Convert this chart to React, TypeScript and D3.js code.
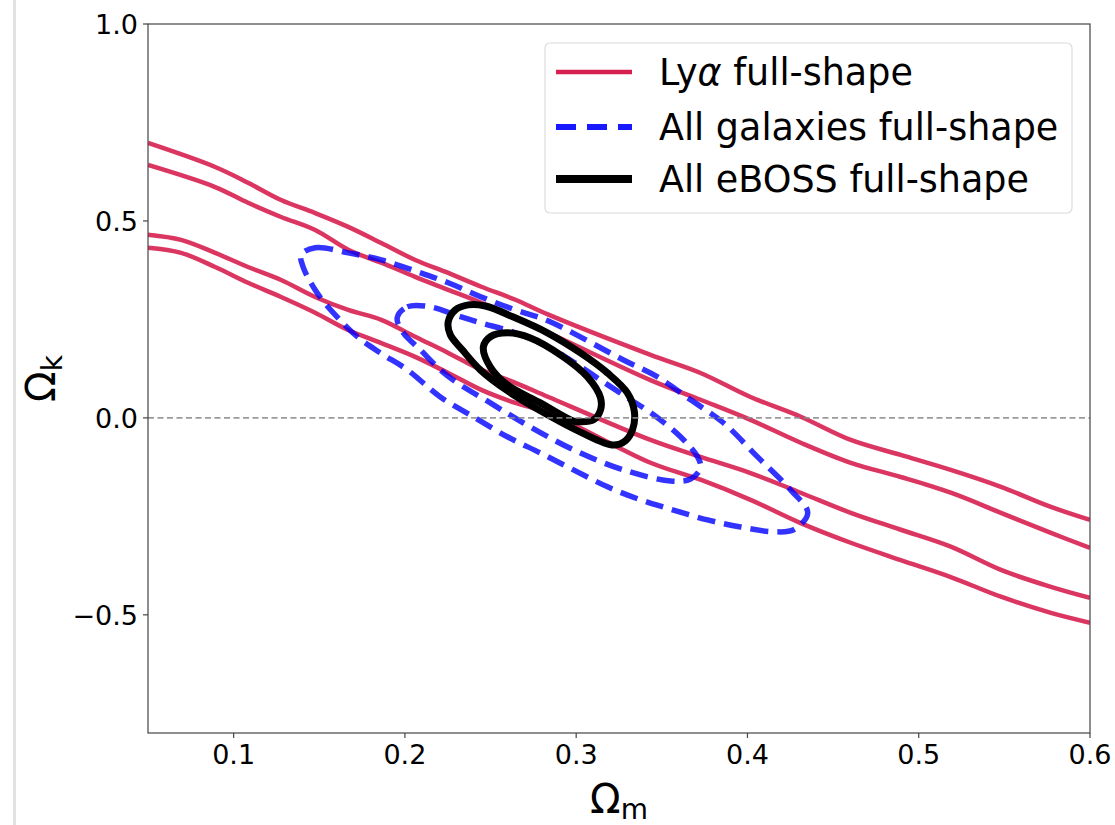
import React from "react";
import * as d3 from "d3";

type P = [number, number];

const xTicks = [0.1, 0.2, 0.3, 0.4, 0.5, 0.6];
const yTicks = [1.0, 0.5, 0.0, -0.5];

const lyaLine1: P[] = [[0.05,0.698],[0.0892,0.637],[0.1084,0.597],[0.1277,0.553],[0.1476,0.520],[0.1669,0.485],[0.1862,0.444],[0.2060,0.401],[0.2253,0.368],[0.2446,0.333],[0.2645,0.300],[0.2838,0.262],[0.3434,0.160],[0.3726,0.114],[0.4018,0.053],[0.4311,0.003],[0.4603,-0.056],[0.4895,-0.094],[0.5187,-0.132],[0.5480,-0.175],[0.5772,-0.226],[0.6,-0.259]];
const lyaLine2: P[] = [[0.05,0.642],[0.0892,0.586],[0.1084,0.546],[0.1277,0.510],[0.1476,0.477],[0.1669,0.427],[0.1862,0.394],[0.2060,0.358],[0.2253,0.325],[0.2446,0.292],[0.2838,0.216],[0.3434,0.096],[0.3726,0.046],[0.4018,-0.005],[0.4311,-0.063],[0.4603,-0.114],[0.4895,-0.150],[0.5187,-0.190],[0.5480,-0.241],[0.5772,-0.292],[0.6,-0.330]];
const lyaLine3: P[] = [[0.05,0.465],[0.0693,0.452],[0.0892,0.419],[0.1084,0.383],[0.1277,0.350],[0.1476,0.307],[0.1669,0.274],[0.1862,0.249],[0.2060,0.206],[0.2253,0.165],[0.2446,0.122],[0.2645,0.089],[0.2838,0.053],[0.3434,-0.056],[0.3726,-0.099],[0.4018,-0.140],[0.4311,-0.190],[0.4603,-0.241],[0.4895,-0.284],[0.5187,-0.327],[0.5480,-0.386],[0.5772,-0.429],[0.6,-0.457]];
const lyaLine4: P[] = [[0.05,0.432],[0.0693,0.419],[0.0892,0.383],[0.1084,0.343],[0.1277,0.307],[0.1476,0.267],[0.1669,0.223],[0.1862,0.190],[0.2060,0.155],[0.2253,0.114],[0.2446,0.071],[0.2645,0.038],[0.2838,0.013],[0.3434,-0.114],[0.3726,-0.157],[0.4018,-0.208],[0.4311,-0.267],[0.4603,-0.317],[0.4895,-0.361],[0.5187,-0.404],[0.5480,-0.454],[0.5772,-0.495],[0.6,-0.520]];

const galOuter: P[] = [[0.1394,0.414],[0.1476,0.432],[0.1669,0.419],[0.1862,0.401],[0.2060,0.373],[0.2253,0.343],[0.2446,0.307],[0.2645,0.274],[0.2838,0.246],[0.3276,0.147],[0.3475,0.104],[0.3668,0.046],[0.3861,-0.013],[0.4059,-0.099],[0.4252,-0.183],[0.4352,-0.241],[0.4270,-0.284],[0.4153,-0.289],[0.3960,-0.277],[0.3767,-0.259],[0.3568,-0.234],[0.3376,-0.208],[0.3183,-0.175],[0.2984,-0.132],[0.2791,-0.089],[0.2598,-0.048],[0.2399,0.003],[0.2207,0.053],[0.2014,0.122],[0.1856,0.165],[0.1722,0.206],[0.1605,0.256],[0.1488,0.317],[0.1406,0.383]];
const galInner: P[] = [[0.1955,0.254],[0.2014,0.282],[0.2148,0.282],[0.2312,0.259],[0.2446,0.241],[0.2645,0.216],[0.2838,0.180],[0.2984,0.142],[0.3142,0.096],[0.3300,0.051],[0.3452,0.008],[0.3609,-0.048],[0.3709,-0.099],[0.3726,-0.127],[0.3668,-0.155],[0.3551,-0.160],[0.3276,-0.132],[0.2984,-0.081],[0.2692,-0.013],[0.2499,0.038],[0.2306,0.089],[0.2207,0.122],[0.2090,0.173],[0.1990,0.216]];

const ebossOuter: P[] = [[0.2253,0.244],[0.2294,0.274],[0.2370,0.287],[0.2470,0.284],[0.2633,0.256],[0.2832,0.216],[0.3025,0.165],[0.3183,0.114],[0.3300,0.063],[0.3340,0.015],[0.3329,-0.030],[0.3288,-0.058],[0.3218,-0.069],[0.3025,-0.036],[0.2791,0.018],[0.2598,0.069],[0.2440,0.122],[0.2335,0.173],[0.2265,0.211]];
const ebossInner: P[] = [[0.2458,0.180],[0.2499,0.206],[0.2598,0.216],[0.2733,0.203],[0.2925,0.155],[0.3066,0.104],[0.3142,0.051],[0.3142,0.020],[0.3101,-0.005],[0.3025,-0.010],[0.2984,-0.008],[0.2791,0.038],[0.2598,0.084],[0.2499,0.129]];

const legendLabels = ["Lyα full-shape", "All galaxies full-shape", "All eBOSS full-shape"];

const W = 1115, H = 825;
const L = 148, R = 1090, T = 24, B = 733;

export default function App() {
  const x = d3.scaleLinear().domain([0.05, 0.6]).range([L, R]);
  const y = d3.scaleLinear().domain([-0.8, 1.0]).range([B, T]);
  const open = d3.line<P>().x(d => x(d[0])).y(d => y(d[1])).curve(d3.curveCatmullRom.alpha(0.5));
  const closed = d3.line<P>().x(d => x(d[0])).y(d => y(d[1])).curve(d3.curveCatmullRomClosed.alpha(0.5));
  const red = "#d62050";
  const blue = "#0000ff";
  const font = "DejaVu Sans, sans-serif";
  const fmt = (v: number) => (v < 0 ? "\u2212" : "") + Math.abs(v).toFixed(1);
  const legendY = [72, 127, 179];
  return (
    <svg width={W} height={H} style={{ position: "absolute", left: 0, top: 0, background: "#fff" }} fontFamily={font}>
      <rect x={0} y={0} width={W} height={H} fill="#fff" />
      <rect x={13} y={0} width={3} height={H} fill="#e2e2e2" />
      <defs>
        <clipPath id="plotclip"><rect x={L} y={T} width={R - L} height={B - T} /></clipPath>
      </defs>
      <g clipPath="url(#plotclip)">
        {[lyaLine1, lyaLine2, lyaLine3, lyaLine4].map((d, i) => (
          <path key={"l" + i} d={open(d) || ""} fill="none" stroke={red} strokeOpacity={0.9} strokeWidth={4.5} />
        ))}
        {[galOuter, galInner].map((d, i) => (
          <path key={"g" + i} d={closed(d) || ""} fill="none" stroke={blue} strokeOpacity={0.8} strokeWidth={5.5} strokeDasharray="18,9" />
        ))}
        {[ebossOuter, ebossInner].map((d, i) => (
          <path key={"e" + i} d={closed(d) || ""} fill="none" stroke="#000" strokeWidth={7} />
        ))}
        <line x1={L} x2={R} y1={y(0)} y2={y(0)} stroke="#888" strokeOpacity={0.85} strokeWidth={1.6} strokeDasharray="6,3.5" />
      </g>
      <rect x={L} y={T} width={R - L} height={B - T} fill="none" stroke="#444" strokeWidth={1.2} />
      {xTicks.map(t => (
        <g key={"xt" + t}>
          <line x1={x(t)} x2={x(t)} y1={B} y2={B + 5} stroke="#444" strokeWidth={1.2} />
          <text x={x(t)} y={B + 31} textAnchor="middle" fontSize={27} fill="#000">{fmt(t)}</text>
        </g>
      ))}
      {yTicks.map(t => (
        <g key={"yt" + t}>
          <line x1={L - 5} x2={L} y1={y(t)} y2={y(t)} stroke="#444" strokeWidth={1.2} />
          <text x={L - 10} y={y(t) + 10} textAnchor="end" fontSize={27} fill="#000">{fmt(t)}</text>
        </g>
      ))}
      <text x={(L + R) / 2} y={813} textAnchor="middle" fontSize={40} fill="#000">
        Ω<tspan fontSize={28} dy={6}>m</tspan>
      </text>
      <text transform={`translate(55,${(T + B) / 2}) rotate(-90)`} textAnchor="middle" fontSize={40} fill="#000">
        Ω<tspan fontSize={28} dy={7}>k</tspan>
      </text>
      <rect x={545} y={43} width={527} height={170} rx={5} fill="#fff" fillOpacity={0.85} stroke="#dcdcdc" strokeWidth={1.2} />
      <line x1={556} x2={632} y1={legendY[0]} y2={legendY[0]} stroke={red} strokeWidth={4.5} />
      <line x1={556} x2={632} y1={legendY[1]} y2={legendY[1]} stroke={blue} strokeOpacity={0.9} strokeWidth={6} strokeDasharray="20,11" />
      <line x1={556} x2={632} y1={legendY[2]} y2={legendY[2]} stroke="#000" strokeWidth={8} />
      <text x={659} y={legendY[0] + 13} fontSize={36.5} fill="#000">
        Ly<tspan fontStyle="italic">α</tspan> full-shape
      </text>
      <text x={659} y={legendY[1] + 13} fontSize={36.5} fill="#000">{legendLabels[1]}</text>
      <text x={659} y={legendY[2] + 13} fontSize={36.5} fill="#000">{legendLabels[2]}</text>
    </svg>
  );
}
